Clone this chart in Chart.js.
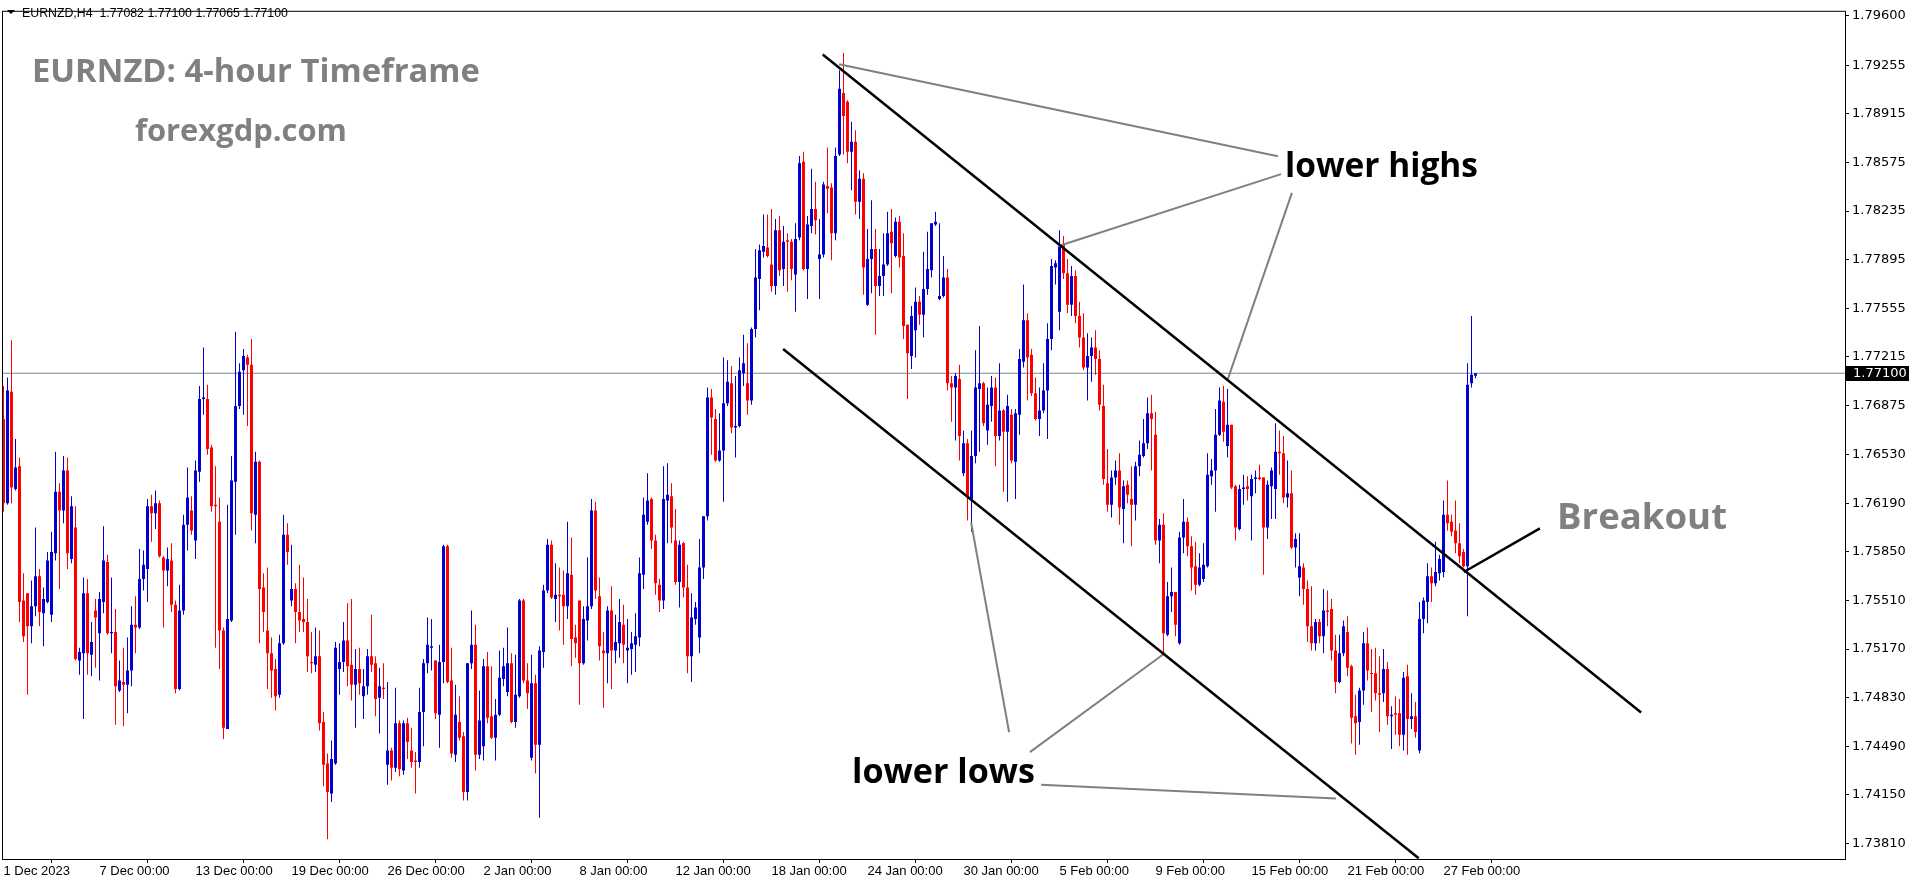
<!DOCTYPE html>
<html>
<head>
<meta charset="utf-8">
<title>EURNZD H4</title>
<script src="https://cdn.jsdelivr.net/npm/chart.js@4.4.1/dist/chart.umd.min.js"></script>
<style>
    html, body { margin: 0; padding: 0; background: #ffffff; }
    #myChart { display: block; }
</style>
</head>
<body>
<canvas id="myChart" width="1916" height="884"></canvas>
<script>
// candle values are in pips above 1.70000 (H4 candles, 1 Dec 2023 -> 27 Feb 2024)
const BASE = 1.7;
const PIP = 0.0001;

const opens = [
    678, 619, 697, 629, 645, 551, 556, 533, 547, 568, 542, 550, 541, 584, 627, 614, 642, 580, 602, 509,
    514, 556, 513, 544, 528, 550, 578, 528, 529, 488, 494, 492, 502, 534, 532, 566, 573, 617, 612, 619,
    581, 572, 579, 548, 489, 544, 604, 614, 593, 641, 692, 692, 658, 618, 606, 530, 461, 537, 634, 687,
    712, 721, 716, 611, 648, 560, 530, 514, 503, 485, 521, 597, 551, 559, 543, 538, 536, 508, 506, 512,
    466, 437, 416, 437, 503, 508, 523, 506, 492, 503, 484, 491, 512, 507, 483, 490, 436, 446, 434, 465,
    432, 465, 446, 439, 438, 473, 507, 518, 509, 471, 508, 589, 495, 443, 466, 456, 417, 507, 520, 443,
    449, 505, 470, 455, 471, 496, 487, 507, 466, 484, 551, 495, 441, 493, 450, 515, 558, 590, 552, 555,
    555, 547, 569, 525, 551, 507, 537, 547, 614, 554, 516, 514, 544, 516, 521, 534, 516, 517, 520, 525,
    569, 606, 622, 593, 562, 551, 621, 624, 593, 564, 591, 560, 512, 538, 525, 574, 610, 693, 678, 649,
    656, 689, 703, 672, 673, 710, 703, 691, 741, 776, 795, 798, 786, 771, 810, 783, 803, 802, 779, 805,
    858, 783, 813, 825, 790, 793, 841, 840, 808, 863, 906, 900, 865, 872, 830, 846, 758, 790, 797, 771,
    778, 786, 809, 792, 816, 792, 744, 722, 740, 760, 751, 769, 782, 814, 762, 764, 777, 703, 700, 706,
    640, 661, 622, 652, 699, 703, 670, 687, 700, 666, 684, 669, 681, 648, 681, 718, 747, 723, 696, 678,
    684, 698, 734, 784, 753, 800, 780, 758, 778, 750, 735, 714, 722, 728, 720, 687, 633, 618, 637, 642,
    615, 632, 622, 618, 645, 652, 661, 682, 667, 593, 604, 527, 554, 557, 521, 595, 606, 589, 575, 562,
    566, 575, 638, 642, 667, 690, 659, 674, 631, 601, 629, 631, 624, 636, 637, 637, 602, 631, 629, 655,
    654, 623, 626, 588, 567, 574, 559, 533, 521, 536, 526, 544, 545, 516, 494, 514, 529, 505, 470, 466,
    488, 521, 500, 500, 486, 486, 503, 470, 472, 472, 457, 498, 468, 470, 446, 538, 550, 568, 563, 570,
    571, 611, 606, 600, 591, 585, 575, 703, 708.2
];
const highs = [
    701, 707, 733, 664, 651, 570, 556, 565, 602, 573, 560, 585, 599, 655, 633, 652, 651, 624, 617, 518,
    567, 566, 536, 552, 557, 603, 583, 567, 545, 509, 518, 525, 547, 554, 587, 586, 622, 625, 628, 621,
    582, 588, 591, 551, 562, 611, 644, 624, 649, 701, 728, 702, 660, 645, 623, 532, 618, 652, 739, 717,
    727, 723, 734, 655, 649, 570, 574, 525, 510, 527, 611, 605, 590, 563, 576, 567, 552, 529, 532, 530,
    473, 444, 453, 522, 521, 536, 549, 552, 517, 518, 503, 517, 541, 512, 504, 507, 494, 448, 490, 467,
    467, 469, 462, 445, 490, 510, 539, 538, 509, 520, 590, 590, 518, 492, 484, 459, 507, 544, 534, 488,
    510, 515, 505, 482, 516, 518, 532, 514, 513, 552, 552, 507, 513, 499, 519, 562, 594, 593, 577, 574,
    572, 606, 595, 534, 551, 547, 581, 622, 620, 567, 529, 547, 561, 541, 552, 548, 538, 529, 542, 581,
    623, 640, 623, 597, 566, 645, 647, 633, 615, 593, 592, 576, 556, 550, 594, 610, 700, 699, 685, 682,
    721, 719, 715, 708, 721, 737, 731, 742, 797, 800, 821, 821, 825, 818, 820, 813, 808, 804, 815, 862,
    865, 820, 853, 844, 818, 844, 868, 843, 868, 922, 934, 901, 886, 880, 852, 850, 811, 831, 811, 797,
    808, 823, 825, 819, 820, 808, 744, 757, 770, 764, 795, 809, 815, 823, 815, 792, 783, 708, 710, 716,
    670, 664, 670, 726, 743, 704, 700, 708, 707, 717, 685, 695, 685, 685, 727, 772, 752, 727, 707, 700,
    717, 745, 790, 789, 810, 806, 790, 785, 782, 760, 752, 738, 735, 740, 726, 702, 657, 642, 649, 654,
    635, 635, 645, 648, 663, 678, 693, 695, 683, 608, 612, 564, 574, 557, 599, 622, 609, 596, 592, 584,
    591, 654, 650, 685, 700, 701, 699, 674, 632, 632, 639, 638, 639, 642, 646, 637, 635, 644, 675, 670,
    666, 649, 642, 598, 598, 577, 565, 561, 538, 538, 559, 558, 552, 527, 527, 537, 540, 506, 485, 490,
    529, 532, 517, 518, 512, 517, 508, 477, 484, 482, 501, 506, 486, 480, 550, 553, 577, 574, 592, 583,
    621, 635, 611, 621, 605, 587, 717, 750, 710
];
const lows = [
    613, 618, 619, 628, 536, 522, 485, 521, 540, 533, 519, 549, 536, 579, 559, 605, 573, 577, 509, 499,
    468, 499, 498, 504, 495, 542, 527, 514, 464, 487, 463, 472, 491, 514, 531, 558, 550, 592, 601, 581,
    532, 561, 543, 486, 488, 541, 586, 597, 580, 634, 681, 653, 613, 518, 503, 454, 461, 536, 597, 685,
    681, 673, 600, 591, 521, 529, 489, 483, 474, 483, 520, 576, 547, 521, 529, 529, 501, 500, 501, 460,
    421, 384, 410, 436, 485, 501, 491, 481, 462, 485, 468, 485, 501, 470, 458, 482, 422, 425, 431, 428,
    429, 440, 434, 416, 434, 449, 500, 502, 468, 448, 493, 493, 441, 438, 453, 411, 411, 503, 432, 440,
    439, 465, 454, 439, 470, 491, 484, 465, 462, 483, 493, 475, 439, 430, 399, 504, 556, 552, 536, 530,
    520, 538, 505, 511, 478, 506, 523, 545, 552, 509, 476, 493, 489, 507, 511, 507, 493, 499, 501, 519,
    559, 604, 587, 555, 543, 545, 591, 591, 562, 546, 553, 500, 494, 534, 514, 566, 607, 653, 648, 648,
    620, 687, 668, 651, 672, 701, 681, 688, 735, 754, 791, 791, 767, 765, 778, 771, 767, 775, 753, 803,
    782, 762, 808, 807, 762, 791, 822, 789, 803, 862, 863, 857, 838, 821, 818, 765, 757, 766, 737, 764,
    764, 785, 766, 791, 784, 734, 692, 713, 721, 744, 735, 765, 777, 813, 761, 763, 698, 676, 663, 649,
    638, 607, 599, 647, 655, 673, 660, 676, 645, 663, 627, 620, 647, 622, 667, 714, 691, 694, 677, 666,
    682, 664, 726, 772, 740, 776, 752, 750, 745, 728, 712, 691, 704, 709, 684, 632, 613, 609, 632, 604,
    591, 619, 589, 607, 638, 651, 657, 642, 590, 577, 513, 526, 543, 526, 520, 584, 582, 558, 555, 561,
    564, 574, 632, 613, 666, 662, 651, 629, 593, 600, 618, 621, 593, 626, 635, 569, 594, 608, 608, 639,
    619, 616, 587, 574, 554, 548, 522, 516, 516, 521, 514, 533, 509, 486, 493, 512, 498, 451, 443, 450,
    478, 495, 473, 481, 459, 480, 464, 447, 457, 449, 446, 443, 461, 455, 444, 528, 535, 550, 561, 565,
    567, 600, 596, 584, 577, 574, 540, 700, 706.5
];
const closes = [
    619, 698, 630, 644, 550, 526, 533, 547, 568, 543, 552, 579, 585, 627, 614, 642, 584, 617, 510, 515,
    556, 514, 522, 539, 552, 579, 528, 529, 491, 495, 492, 502, 534, 532, 566, 576, 617, 612, 619, 582,
    572, 580, 548, 489, 544, 604, 623, 600, 642, 692, 693, 657, 617, 617, 530, 462, 538, 635, 687, 711,
    722, 716, 612, 648, 559, 543, 514, 502, 484, 521, 597, 585, 559, 543, 537, 536, 512, 507, 512, 465,
    436, 417, 440, 518, 508, 523, 505, 492, 503, 493, 491, 512, 506, 482, 491, 489, 446, 434, 465, 433,
    465, 452, 438, 438, 473, 507, 520, 519, 472, 508, 589, 494, 444, 471, 455, 417, 507, 520, 443, 467,
    505, 469, 455, 471, 497, 505, 507, 466, 485, 551, 495, 486, 493, 450, 516, 558, 590, 553, 555, 554,
    547, 570, 524, 521, 507, 538, 547, 614, 558, 519, 514, 544, 516, 522, 536, 520, 518, 521, 526, 570,
    611, 621, 593, 563, 551, 622, 625, 602, 564, 590, 560, 512, 539, 546, 574, 610, 693, 679, 649, 656,
    689, 704, 672, 673, 712, 717, 691, 741, 777, 796, 799, 792, 771, 810, 782, 802, 802, 783, 804, 857,
    783, 814, 825, 817, 793, 842, 839, 808, 862, 909, 890, 865, 872, 830, 846, 784, 790, 797, 771, 778,
    786, 808, 801, 816, 791, 743, 724, 750, 760, 751, 769, 783, 815, 816, 764, 777, 703, 700, 708, 666,
    661, 624, 652, 700, 703, 675, 688, 700, 666, 684, 669, 687, 649, 682, 720, 747, 721, 696, 678, 684,
    698, 734, 785, 787, 800, 780, 758, 778, 750, 735, 714, 722, 728, 720, 688, 636, 618, 637, 642, 616,
    631, 625, 618, 645, 653, 661, 682, 678, 593, 604, 528, 554, 557, 534, 595, 606, 589, 574, 562, 574,
    576, 639, 642, 667, 691, 669, 674, 630, 602, 629, 630, 629, 636, 637, 636, 602, 632, 642, 655, 654,
    623, 626, 588, 594, 575, 559, 533, 521, 536, 526, 544, 543, 516, 494, 514, 533, 504, 469, 465, 488,
    521, 502, 499.5, 486, 485, 503, 470, 471, 471, 457, 497, 468, 470, 459, 538, 551, 568, 563, 571, 580,
    611, 605, 599, 591, 582, 575, 702, 709, 710
];

// x axis: candle index of each date label
const dateTicks = [0, 24, 48, 72, 96, 120, 144, 168, 192, 216, 240, 264, 288, 312, 336, 360];
const dateLabels = ['1 Dec 2023', '7 Dec 00:00', '13 Dec 00:00', '19 Dec 00:00', '26 Dec 00:00',
    '2 Jan 00:00', '8 Jan 00:00', '12 Jan 00:00', '18 Jan 00:00', '24 Jan 00:00', '30 Jan 00:00',
    '5 Feb 00:00', '9 Feb 00:00', '15 Feb 00:00', '21 Feb 00:00', '27 Feb 00:00'];

// right price scale
const priceTicks = [1.79600, 1.79255, 1.78915, 1.78575, 1.78235, 1.77895, 1.77555, 1.77215, 1.76875,
    1.76530, 1.76190, 1.75850, 1.75510, 1.75170, 1.74830, 1.74490, 1.74150, 1.73810];
const lastPrice = 1.77100;
const headerText = 'EURNZD,H4  1.77082 1.77100 1.77065 1.77100';

// drawn objects, points are [candle index, pips]
const upperChannel = [[204.8, 933], [409.4, 472.6]];
const lowerChannel = [[194.9, 727], [353.8, 370.6]];
const lowerHighsLines = [
    [[318.6, 861.8], [208.9, 926.2]],
    [[319.4, 849.3], [263.6, 798.8]],
    [[322.1, 836.2], [306.1, 706.0]]
];
const lowerLowsLines = [
    [[251.4, 458.8], [241.9, 605.6]],
    [[256.6, 444.9], [290.4, 514.2]],
    [[259.4, 422.1], [333.1, 412.4]]
];
const breakoutLine = [[365.1, 570.9], [384.1, 601.4]];

const X_MIN = -0.375;
const X_MAX = 460.375;
const Y_MIN = 1.73701;
const Y_MAX = 1.79636;

const BLUE = '#0000d0';
const RED = '#ff0000';

function price(v) {
    return +(BASE + v * PIP).toFixed(6);
}

function toPoints(pts) {
    return pts.map(p => ({ x: p[0], y: price(p[1]) }));
}

function lineDataset(pts, color, width) {
    return {
        type: 'line',
        data: toPoints(pts),
        borderColor: color,
        borderWidth: width,
        pointRadius: 0,
        fill: false,
        tension: 0,
        order: 0
    };
}

const bodies = [];
const wicks = [];
const colors = [];
for (let i = 0; i < opens.length; i++) {
    bodies.push({ x: i, y: [price(opens[i]), price(closes[i])] });
    wicks.push({ x: i, y: [price(lows[i]), price(highs[i])] });
    colors.push(closes[i] >= opens[i] ? BLUE : RED);
}

const datasets = [
    {
        type: 'line',
        data: [{ x: X_MIN, y: lastPrice }, { x: X_MAX, y: lastPrice }],
        borderColor: '#778899',
        borderWidth: 1,
        pointRadius: 0,
        order: 5
    },
    {
        type: 'bar',
        data: bodies,
        backgroundColor: colors,
        borderWidth: 0,
        barThickness: 3,
        grouped: false,
        minBarLength: 1,
        inflateAmount: 0,
        order: 2
    },
    {
        type: 'bar',
        data: wicks,
        backgroundColor: colors,
        borderWidth: 0,
        barThickness: 1,
        grouped: false,
        inflateAmount: 0,
        order: 3
    },
    lineDataset(upperChannel, '#000000', 2.5),
    lineDataset(lowerChannel, '#000000', 2.5),
    lineDataset(breakoutLine, '#000000', 2.5)
];
lowerHighsLines.forEach(l => datasets.push(lineDataset(l, '#808080', 2)));
lowerLowsLines.forEach(l => datasets.push(lineDataset(l, '#808080', 2)));

function fitFont(ctx, text, weight, family, width) {
    ctx.font = weight + ' 100px ' + family;
    const w = ctx.measureText(text).width;
    const size = 100 * width / w;
    return weight + ' ' + size.toFixed(2) + 'px ' + family;
}

const framePlugin = {
    id: 'frame',
    afterDraw(chart) {
        const ctx = chart.ctx;
        const a = chart.chartArea;
        ctx.save();
        ctx.strokeStyle = '#000000';
        ctx.lineWidth = 1;
        ctx.strokeRect(a.left + 0.5, a.top + 0.5, a.right - a.left, a.bottom - a.top);

        // header line
        ctx.fillStyle = '#000000';
        ctx.beginPath();
        ctx.moveTo(7, 10);
        ctx.lineTo(15, 10);
        ctx.lineTo(11, 14);
        ctx.closePath();
        ctx.fill();
        ctx.font = fitFont(ctx, headerText, 'normal', '"Liberation Sans"', 266);
        ctx.textBaseline = 'alphabetic';
        ctx.textAlign = 'left';
        ctx.fillText(headerText, 22, 17);

        // titles
        const family = '"Open Sans", "Noto Sans", sans-serif';
        ctx.fillStyle = '#808080';
        ctx.font = fitFont(ctx, 'EURNZD: 4-hour Timeframe', 'bold', family, 448);
        ctx.fillText('EURNZD: 4-hour Timeframe', 32, 82);
        ctx.font = fitFont(ctx, 'forexgdp.com', 'bold', family, 212);
        ctx.fillText('forexgdp.com', 135, 141);
        ctx.font = fitFont(ctx, 'Breakout', 'bold', family, 170);
        ctx.fillText('Breakout', 1557, 529);

        ctx.fillStyle = '#000000';
        ctx.font = fitFont(ctx, 'lower highs', 'bold', family, 193);
        ctx.fillText('lower highs', 1285, 177);
        ctx.font = fitFont(ctx, 'lower lows', 'bold', family, 183);
        ctx.fillText('lower lows', 852, 783);

        // last price box on the price scale
        const y = Math.round(chart.scales.y.getPixelForValue(lastPrice));
        ctx.fillStyle = '#000000';
        ctx.fillRect(a.right + 1, y - 7, 63, 15);
        ctx.fillStyle = '#ffffff';
        ctx.font = '13px "DejaVu Sans"';
        ctx.textBaseline = 'middle';
        ctx.fillText(lastPrice.toFixed(5), a.right + 8, y + 0.5);
        ctx.restore();
    }
};

const ctx = document.getElementById('myChart').getContext('2d');
new Chart(ctx, {
    type: 'bar',
    data: { datasets: datasets },
    options: {
        responsive: false,
        animation: false,
        devicePixelRatio: 1,
        layout: { padding: { left: 2, top: 2, right: 0, bottom: 0 } },
        plugins: {
            legend: { display: false },
            tooltip: { enabled: false }
        },
        scales: {
            x: {
                type: 'linear',
                min: X_MIN,
                max: X_MAX,
                offset: false,
                border: { display: false },
                grid: { drawOnChartArea: false, drawTicks: true, tickLength: 4, color: '#000000' },
                ticks: {
                    autoSkip: false,
                    maxRotation: 0,
                    align: 'start',
                    padding: 1,
                    color: '#000000',
                    font: { family: '"Liberation Sans"', size: 13 },
                    callback: (value) => {
                        const k = dateTicks.indexOf(value);
                        return k >= 0 ? dateLabels[k] : '';
                    }
                },
                afterBuildTicks: (axis) => {
                    axis.ticks = dateTicks.map(v => ({ value: v }));
                },
                afterFit: (axis) => { axis.height = 25; }
            },
            y: {
                type: 'linear',
                position: 'right',
                min: Y_MIN,
                max: Y_MAX,
                border: { display: false },
                grid: { drawOnChartArea: false, drawTicks: true, tickLength: 4, color: '#000000' },
                ticks: {
                    padding: 3,
                    color: '#000000',
                    font: { family: '"DejaVu Sans"', size: 13 },
                    callback: (value) => value.toFixed(5)
                },
                afterBuildTicks: (axis) => {
                    axis.ticks = priceTicks.map(v => ({ value: v }));
                },
                afterFit: (axis) => { axis.width = 71; }
            }
        }
    },
    plugins: [framePlugin]
});
</script>
</body>
</html>
